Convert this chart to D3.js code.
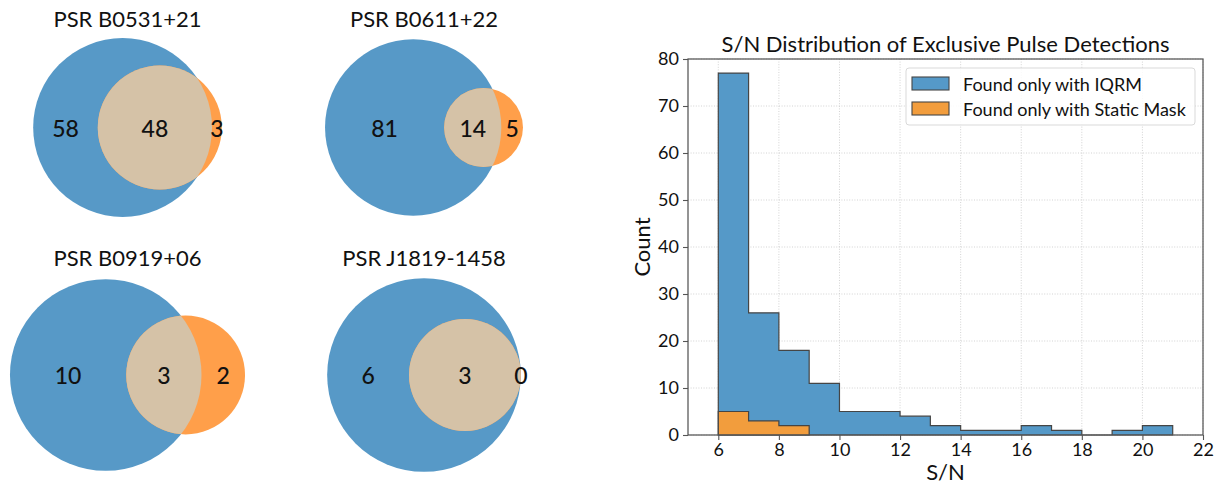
<!DOCTYPE html>
<html>
<head>
<meta charset="utf-8">
<script src="https://cdn.jsdelivr.net/npm/d3@7"></script>
<style>
  body { margin: 0; background: #fff; }
  svg { display: block; }
  text { font-family: Lato, "Open Sans", "DejaVu Sans", sans-serif; fill: #111; }
</style>
</head>
<body>
<svg id="chart" width="1222" height="485"></svg>
<script>
// ---- Venn panels: overlap of single-pulse detections per pulsar ----
const pulsars     = ["PSR B0531+21", "PSR B0611+22", "PSR B0919+06", "PSR J1819-1458"];
const iqrmOnly    = [58, 81, 10, 6];
const bothMethods = [48, 14, 3, 3];
const staticOnly  = [3, 5, 2, 0];

// ---- Histogram: S/N of pulses found by only one method ----
const binEdges     = [6, 7, 8, 9, 10, 11, 12, 13, 14, 15, 16, 17, 18, 19, 20, 21];
const iqrmCounts   = [77, 26, 18, 11, 5, 5, 4, 2, 1, 1, 2, 1, 0, 1, 2];
const staticEdges  = [6, 7, 8, 9];
const staticCounts = [5, 3, 2];
const xTicks = [6, 8, 10, 12, 14, 16, 18, 20, 22];
const yTicks = [0, 10, 20, 30, 40, 50, 60, 70, 80];
const seriesNames = ["Found only with IQRM", "Found only with Static Mask"];

const BLUE = "#5799c7", ORANGE = "#ff9f4a", MIX = "#d5c2a7";
const HBLUE = "#5599c8", HORANGE = "#f29d3d";

const svg = d3.select("#chart");

// ---------- Venn geometry ----------
function lensArea(r1, r2, d) {
  if (d >= r1 + r2) return 0;
  if (d <= Math.abs(r1 - r2)) return Math.PI * Math.min(r1, r2) ** 2;
  const a = r1 * r1 * Math.acos((d * d + r1 * r1 - r2 * r2) / (2 * d * r1));
  const b = r2 * r2 * Math.acos((d * d + r2 * r2 - r1 * r1) / (2 * d * r2));
  const c = 0.5 * Math.sqrt((-d + r1 + r2) * (d + r1 - r2) * (d - r1 + r2) * (d + r1 + r2));
  return a + b - c;
}
function centerDistance(r1, r2, target) {
  let lo = Math.abs(r1 - r2), hi = r1 + r2;
  if (target >= Math.PI * Math.min(r1, r2) ** 2 - 1e-12) return lo;
  if (target <= 0) return hi;
  for (let i = 0; i < 200; i++) {
    const mid = (lo + hi) / 2;
    if (lensArea(r1, r2, mid) > target) lo = mid; else hi = mid;
  }
  return (lo + hi) / 2;
}

// cell frames for the 2x2 grid of Venn panels
const cellCx = [127.5, 424, 127.5, 424];
const cellCy = [127.5, 127.5, 375, 375];
const cellW  = [230, 230, 290, 290];
const cellH  = [211, 211, 228, 228];

pulsars.forEach((name, i) => {
  const a = iqrmOnly[i], ab = bothMethods[i], b = staticOnly[i];
  const total = a + ab + b;
  // areas normalised so the union has area 1
  const rA = Math.sqrt(((a + ab) / total) / Math.PI);
  const rB = Math.sqrt(((b + ab) / total) / Math.PI);
  const d = centerDistance(rA, rB, ab / total);
  const margin = 0.1;
  const x0 = Math.min(-rA, d - rB) - margin, x1 = Math.max(rA, d + rB) + margin;
  const rMax = Math.max(rA, rB);
  const y0 = -rMax - margin, y1 = rMax + margin;
  const s = Math.min(cellW[i] / (x1 - x0), cellH[i] / (y1 - y0));
  const x = d3.scaleLinear().domain([x0, x1])
    .range([cellCx[i] - s * (x1 - x0) / 2, cellCx[i] + s * (x1 - x0) / 2]);
  const y = d3.scaleLinear().domain([y0, y1])
    .range([cellCy[i] + s * (y1 - y0) / 2, cellCy[i] - s * (y1 - y0) / 2]);

  const g = svg.append("g");
  const clipId = "clipA" + i;
  g.append("clipPath").attr("id", clipId)
    .append("circle").attr("cx", x(0)).attr("cy", y(0)).attr("r", rA * s);

  g.append("circle").attr("cx", x(0)).attr("cy", y(0)).attr("r", rA * s).attr("fill", BLUE);
  g.append("circle").attr("cx", x(d)).attr("cy", y(0)).attr("r", rB * s).attr("fill", ORANGE);
  g.append("circle").attr("cx", x(d)).attr("cy", y(0)).attr("r", rB * s)
    .attr("fill", MIX).attr("clip-path", `url(#${clipId})`);

  const labels = [
    { v: a,  px: (-rA + (d - rB)) / 2 },
    { v: ab, px: ((d - rB) + rA) / 2 },
    { v: b,  px: (rA + (d + rB)) / 2 }
  ];
  g.selectAll("text.num").data(labels).join("text")
    .attr("class", "num")
    .attr("x", l => x(l.px)).attr("y", y(0))
    .attr("text-anchor", "middle").attr("dominant-baseline", "central")
    .style("font-size", "23px").style("font-weight", 500)
    .text(l => l.v);

  svg.append("text")
    .attr("x", cellCx[i]).attr("y", cellCy[i] - cellH[i] / 2 + 4.5)
    .attr("text-anchor", "middle")
    .style("font-size", "22px")
    .text(name);
});

// ---------- Histogram ----------
const plot = { left: 688, right: 1203, top: 59, bottom: 435 };
const hx = d3.scaleLinear().domain([5, 22]).range([plot.left, plot.right]);
const hy = d3.scaleLinear().domain([0, 80]).range([plot.bottom, plot.top]);

const hg = svg.append("g");

// dotted grid
hg.append("g").selectAll("line").data(xTicks).join("line")
  .attr("x1", d => hx(d)).attr("x2", d => hx(d))
  .attr("y1", plot.top).attr("y2", plot.bottom)
  .attr("stroke", "#c8c8c8").attr("stroke-width", 0.8).attr("stroke-dasharray", "1,1.6");
hg.append("g").selectAll("line").data(yTicks).join("line")
  .attr("x1", plot.left).attr("x2", plot.right)
  .attr("y1", d => hy(d)).attr("y2", d => hy(d))
  .attr("stroke", "#c8c8c8").attr("stroke-width", 0.8).attr("stroke-dasharray", "1,1.6");

// step-filled histograms
function stepPoints(edges, counts) {
  const pts = counts.map((c, k) => ({ e: edges[k], c }));
  pts.push({ e: edges[edges.length - 1], c: counts[counts.length - 1] });
  return pts;
}
const stepArea = d3.area()
  .x(p => hx(p.e)).y0(hy(0)).y1(p => hy(p.c))
  .curve(d3.curveStepAfter);

hg.append("path").datum(stepPoints(binEdges, iqrmCounts))
  .attr("d", stepArea).attr("fill", HBLUE)
  .attr("stroke", "#454545").attr("stroke-width", 1.2).attr("stroke-linejoin", "miter");
hg.append("path").datum(stepPoints(staticEdges, staticCounts))
  .attr("d", stepArea).attr("fill", HORANGE)
  .attr("stroke", "#454545").attr("stroke-width", 1.2).attr("stroke-linejoin", "miter");

// axes
const xAxis = hg.append("g").attr("transform", `translate(0,${plot.bottom})`)
  .call(d3.axisBottom(hx).tickValues(xTicks).tickSize(5).tickSizeOuter(0).tickPadding(3));
const yAxis = hg.append("g").attr("transform", `translate(${plot.left},0)`)
  .call(d3.axisLeft(hy).tickValues(yTicks).tickSize(5).tickSizeOuter(0).tickPadding(4));
[xAxis, yAxis].forEach(ax => {
  ax.select(".domain").remove();
  ax.selectAll(".tick line").attr("stroke", "#555").attr("stroke-width", 1.1);
  ax.selectAll(".tick text").style("font-size", "18px")
    .style("font-family", "Lato, 'Open Sans', sans-serif").attr("fill", "#222");
});

// frame
hg.append("rect")
  .attr("x", plot.left).attr("y", plot.top)
  .attr("width", plot.right - plot.left).attr("height", plot.bottom - plot.top)
  .attr("fill", "none").attr("stroke", "#555").attr("stroke-width", 1.25);

// titles and axis labels
hg.append("text").attr("x", (plot.left + plot.right) / 2).attr("y", 52)
  .attr("text-anchor", "middle").style("font-size", "22px")
  .text("S/N Distribution of Exclusive Pulse Detections");
hg.append("text").attr("x", (plot.left + plot.right) / 2).attr("y", 480)
  .attr("text-anchor", "middle").style("font-size", "22px")
  .text("S/N");
hg.append("text")
  .attr("transform", `translate(650,${(plot.top + plot.bottom) / 2}) rotate(-90)`)
  .attr("text-anchor", "middle").style("font-size", "22px")
  .text("Count");

// legend
const lg = hg.append("g");
lg.append("rect").attr("x", 906).attr("y", 68).attr("width", 289).attr("height", 57)
  .attr("rx", 3).attr("fill", "#fff").attr("fill-opacity", 0.85)
  .attr("stroke", "#d9d9d9").attr("stroke-width", 1);
const legendFills = [HBLUE, HORANGE];
seriesNames.forEach((nm, k) => {
  const yy = 77 + k * 25;
  lg.append("rect").attr("x", 912).attr("y", yy).attr("width", 37).attr("height", 13)
    .attr("fill", legendFills[k]).attr("stroke", "#454545").attr("stroke-width", 1.1);
  lg.append("text").attr("x", 963).attr("y", yy + 6.5)
    .attr("dominant-baseline", "central").style("font-size", "18px")
    .text(nm);
});
</script>
</body>
</html>
